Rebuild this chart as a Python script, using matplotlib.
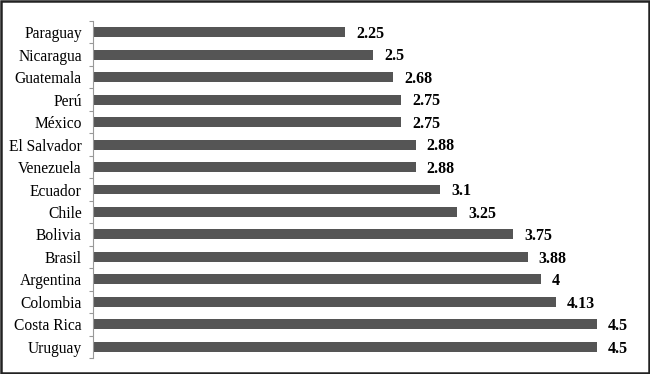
import matplotlib
matplotlib.use("Agg")
import matplotlib.pyplot as plt
from matplotlib.patches import Rectangle

countries = ["Paraguay", "Nicaragua", "Guatemala", "Perú", "México", "El Salvador",
             "Venezuela", "Ecuador", "Chile", "Bolivia", "Brasil", "Argentina",
             "Colombia", "Costa Rica", "Uruguay"]
values = [2.25, 2.5, 2.68, 2.75, 2.75, 2.88, 2.88, 3.1, 3.25, 3.75, 3.88, 4, 4.13, 4.5, 4.5]
labels = ["2.25", "2.5", "2.68", "2.75", "2.75", "2.88", "2.88", "3.1", "3.25", "3.75",
          "3.88", "4", "4.13", "4.5", "4.5"]

plt.rcParams['font.family'] = ['Liberation Serif', 'DejaVu Serif']

fig = plt.figure(figsize=(6.5, 3.74), dpi=100)
ax = fig.add_axes([93/650, 16/374, 554/650, 337/374])

n = len(countries)
ypos = list(range(n))[::-1]
ax.barh(ypos, values, height=0.44, color="#555555")
for y, v, lab in zip(ypos, values, labels):
    ax.text(v + 0.1, y - 0.08, lab, va="center", ha="left", fontsize=11.5,
            fontweight="bold", color="black")

ax.set_xlim(0, 554/112)
ax.set_ylim(-0.5, n - 0.5)
ax.set_yticks(ypos)
ax.set_yticklabels(countries, fontsize=11.2)
ax.set_yticks([i + 0.5 for i in range(-1, n)], minor=True)
ax.tick_params(axis="y", which="major", length=0, pad=8)
ax.tick_params(axis="y", which="minor", length=3, color="#999999", width=0.8)
ax.set_xticks([])
for s in ["top", "right", "bottom"]:
    ax.spines[s].set_visible(False)
ax.spines["left"].set_color("#999999")
ax.spines["left"].set_linewidth(0.8)

fig.patches.append(Rectangle((0.001, 0.002), 0.997, 0.996, transform=fig.transFigure,
                             fill=False, edgecolor="#222222", linewidth=1.8))

fig.savefig("out.png", dpi=100)
